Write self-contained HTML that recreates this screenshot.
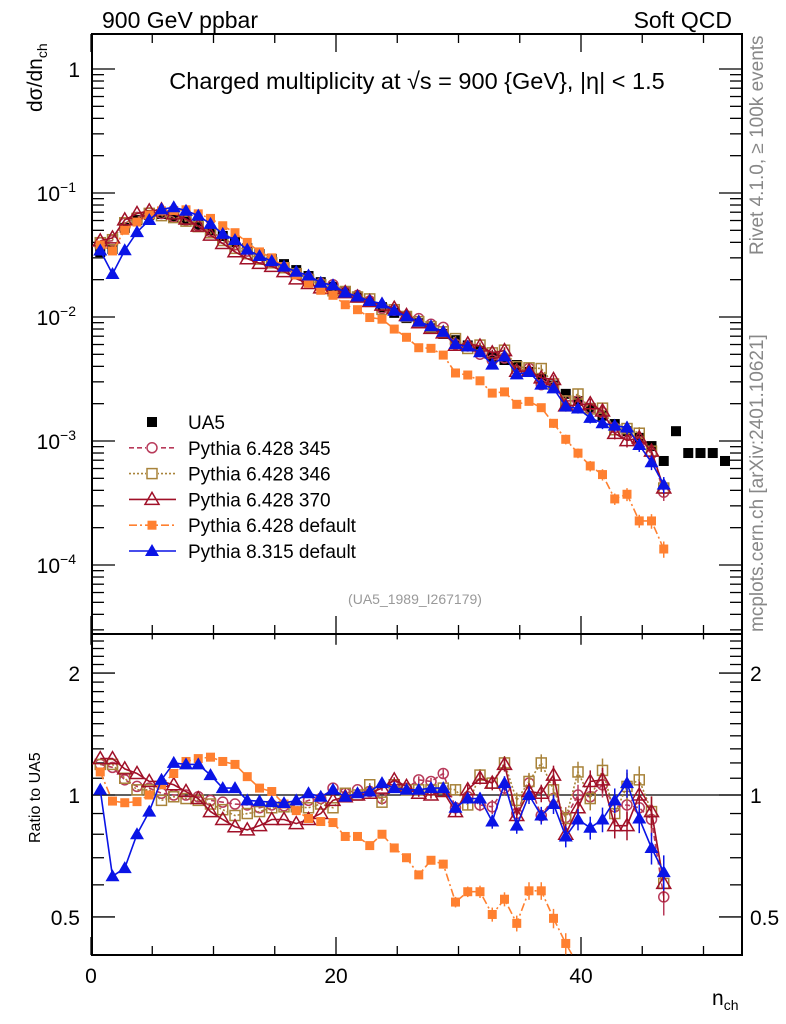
<!DOCTYPE html>
<html><head><meta charset="utf-8"><style>
html,body{margin:0;padding:0;background:#fff;overflow:hidden;width:786px;height:1024px}
svg{display:block;font-family:"Liberation Sans",sans-serif}
</style></head><body>
<svg id="c" width="786" height="1024" viewBox="0 0 786 1024" xmlns="http://www.w3.org/2000/svg">
<defs>
<clipPath id="cm"><rect x="92" y="34" width="650" height="600"/></clipPath>
<clipPath id="cr"><rect x="92" y="634" width="650" height="321"/></clipPath>
</defs>
<g id="axes"></g>
<g id="mainMarks" clip-path="url(#cm)"></g>
<g id="ratioMarks" clip-path="url(#cr)"></g>
<text x="102" y="28" font-size="23">900 GeV ppbar</text>
<text x="732" y="28" font-size="23" text-anchor="end">Soft QCD</text>
<text x="417" y="89" font-size="23.5" text-anchor="middle">Charged multiplicity at √s = 900 {GeV}, |η| &lt; 1.5</text>
<text x="415" y="604" font-size="14" fill="#999" text-anchor="middle">(UA5_1989_I267179)</text>
<text transform="translate(763,255) rotate(-90)" font-size="19" fill="#888">Rivet 4.1.0, ≥ 100k events</text>
<text transform="translate(763,632) rotate(-90)" font-size="19" fill="#888">mcplots.cern.ch [arXiv:2401.10621]</text>
<text transform="translate(42,112) rotate(-90)" font-size="21">dσ/dn<tspan font-size="14" dy="5">ch</tspan></text>
<text transform="translate(40,843) rotate(-90)" font-size="16">Ratio to UA5</text>
<text x="712" y="1005" font-size="21">n<tspan font-size="14" dy="5">ch</tspan></text>
<g id="legend"></g>
</svg>
<script>
const nVals=[1,2,3,4,5,6,7,8,9,10,11,12,13,14,15,16,17,18,19,20,21,22,23,24,25,26,27,28,29,30,31,32,33,34,35,36,37,38,39,40,41,42,43,44,45,46,47,48,49,50,51,52];
const ua5=[0.0334,0.0353,0.0523,0.0605,0.0665,0.0677,0.064,0.0605,0.0552,0.0503,0.045,0.0402,0.036,0.0322,0.0294,0.0267,0.0239,0.0214,0.0191,0.0175,0.0159,0.0145,0.0132,0.012,0.0108,0.0098,0.0089,0.0081,0.0073,0.0065,0.0059,0.0053,0.0048,0.0045,0.0041,0.0036,0.0032,0.0028,0.0024,0.0021,0.00185,0.0016,0.00137,0.0012,0.00106,0.00091,0.00069,0.0012,0.0008,0.0008,0.0008,0.00069];
const r345=[1.19,1.17,1.09,1.05,1.04,1.01,1.0,1.0,0.99,0.97,0.96,0.95,0.945,0.93,0.945,0.94,0.945,0.97,0.98,1.04,1.01,1.03,1.02,0.98,1.05,1.04,1.09,1.08,1.13,0.93,0.99,0.945,0.935,1.04,0.90,1.07,0.89,0.98,0.88,1.0,0.99,1.06,0.935,0.945,0.93,0.87,0.56];
const r346=[1.19,1.19,1.10,1.03,1.03,0.97,0.99,0.98,0.97,0.95,0.92,0.89,0.90,0.91,0.93,0.935,0.935,0.93,0.95,0.93,1.01,1.0,1.06,0.96,1.06,1.03,1.03,1.03,1.04,1.03,0.945,1.12,1.07,1.2,0.97,1.08,1.2,1.03,0.875,1.14,0.98,1.15,0.90,1.05,1.09,0.91,0.605];
const r370=[1.23,1.23,1.16,1.13,1.08,1.08,1.06,1.02,0.98,0.91,0.87,0.835,0.82,0.84,0.87,0.87,0.85,0.87,0.90,0.97,0.99,1.0,1.01,1.04,1.09,1.05,1.01,1.0,1.02,0.91,1.03,1.1,1.07,1.19,0.89,1.02,1.01,1.12,0.80,0.93,1.08,1.09,0.84,0.84,1.0,0.91,0.605];
const rDef6=[1.14,0.966,0.957,0.963,1.0,1.06,1.13,1.21,1.23,1.24,1.21,1.19,1.11,1.04,1.02,0.95,0.915,0.875,0.86,0.855,0.79,0.79,0.75,0.80,0.74,0.70,0.635,0.69,0.675,0.544,0.577,0.577,0.507,0.553,0.482,0.58,0.58,0.496,0.43,0.38,0.34,0.335,0.249,0.31,0.214,0.249,0.195];
const rP8=[1.03,0.63,0.66,0.80,0.91,1.09,1.2,1.19,1.19,1.12,1.04,1.04,0.97,0.965,0.96,0.955,0.97,1.01,0.99,1.03,0.99,1.01,1.02,1.07,1.04,1.03,1.03,1.04,1.04,0.93,0.98,0.98,0.86,1.07,0.84,1.0,0.89,0.95,0.79,0.87,0.83,0.87,0.97,1.07,0.875,0.74,0.645];
const relErr=[0,0,0,0,0,0,0,0,0,0,0,0,0,0,0,0,0,0,0,0,0.01,0.01,0.01,0.015,0.015,0.02,0.02,0.02,0.025,0.03,0.03,0.035,0.04,0.04,0.045,0.05,0.05,0.055,0.06,0.06,0.065,0.07,0.07,0.08,0.08,0.09,0.1];
const xTicks=[0,20,40];
const mainDecades=[0,-1,-2,-3,-4];
const ratioTicks=[0.5,1,2];

const NS="http://www.w3.org/2000/svg";
const X0=91,XS=12.25;
function sx(n){return X0+XS*n-3;}
function ax(v){return X0+XS*v;}
function sy(v){return 193-124*(Math.log10(v)+1);}
function ry(r){return 795-405*Math.log10(r);}
function el(tag,attrs,parent){const e=document.createElementNS(NS,tag);for(const k in attrs)e.setAttribute(k,attrs[k]);parent.appendChild(e);return e;}

const axes=document.getElementById('axes');
let f=el('rect',{x:92,y:34,width:650,height:600,fill:'none',stroke:'#000','stroke-width':2},axes);


f=el('rect',{x:92,y:634,width:650,height:321,fill:'none',stroke:'#000','stroke-width':2},axes);


for(let v=0;v<=53;v+=5){
  const big=v%20===0, L=big?18:9, x=ax(v);
  el('line',{x1:x,y1:34,x2:x,y2:34+L,stroke:'#000','stroke-width':1.3},axes);
  el('line',{x1:x,y1:634,x2:x,y2:634-L,stroke:'#000','stroke-width':1.3},axes);
  el('line',{x1:x,y1:634,x2:x,y2:634+L*0.6,stroke:'#000','stroke-width':1.3},axes);
  el('line',{x1:x,y1:955,x2:x,y2:955-L,stroke:'#000','stroke-width':1.3},axes);
}
xTicks.forEach(v=>{
  const t=el('text',{x:ax(v),y:983,'font-size':21,'text-anchor':'middle'},axes);
  t.textContent=v;
  
  
});
for(let d=-5;d<=0;d++){
  for(let m=1;m<=9;m++){
    const v=m*Math.pow(10,d), y=sy(v);
    if(y<34||y>634)continue;
    const L=m===1?23:12;
    el('line',{x1:92,y1:y,x2:92+L,y2:y,stroke:'#000','stroke-width':1.3},axes);
    el('line',{x1:742,y1:y,x2:742-L,y2:y,stroke:'#000','stroke-width':1.3},axes);
  }
}
mainDecades.forEach(d=>{
  const y=sy(Math.pow(10,d));
  const t=el('text',{x:d===0?80:76,y:y+8,'font-size':21,'text-anchor':'end'},axes);
  if(d===0)t.textContent='1';
  else{t.textContent='10';const s=el('tspan',{dy:-9,'font-size':14},t);s.textContent='−'+(-d);}
  
  
});
for(let r=0.4;r<=2.55;r+=0.1){
  const rr=Math.round(r*10)/10, y=ry(rr);
  if(y<634||y>955)continue;
  const big=(rr===0.5||rr===1||rr===2), L=big?23:12;
  el('line',{x1:92,y1:y,x2:92+L,y2:y,stroke:'#000','stroke-width':1.3},axes);
  el('line',{x1:742,y1:y,x2:742-L,y2:y,stroke:'#000','stroke-width':1.3},axes);
}
ratioTicks.forEach(r=>{
  const y=ry(r);
  let t=el('text',{x:80,y:y+8,'font-size':21,'text-anchor':'end'},axes);t.textContent=r;
  
  
  t=el('text',{x:750,y:y+8,'font-size':21},axes);t.textContent=r;
  
  
});
el('line',{x1:92,y1:ry(1),x2:742,y2:ry(1),stroke:'#000','stroke-width':1.3},axes);

function marker(g,type,x,y,col){
  let m;
  if(type==='fsq')m=el('rect',{x:x-5,y:y-5,width:10,height:10,fill:col},g);
  else if(type==='fsqs')m=el('rect',{x:x-4.5,y:y-4.5,width:9,height:9,fill:col},g);
  else if(type==='osq')m=el('rect',{x:x-5,y:y-5,width:10,height:10,fill:'#fff','fill-opacity':0,stroke:col,'stroke-width':1.5},g);
  else if(type==='oc')m=el('circle',{cx:x,cy:y,r:5,fill:'none',stroke:col,'stroke-width':1.5},g);
  else if(type==='otri')m=el('polygon',{points:`${x},${y-7} ${x-7},${y+5} ${x+7},${y+5}`,fill:'none',stroke:col,'stroke-width':1.5},g);
  else m=el('polygon',{points:`${x},${y-7} ${x-7},${y+5} ${x+7},${y+5}`,fill:col},g);
  return m;
}
const series=[
 {name:'pythia-6428-345',label:'Pythia 6.428 345',r:r345,col:'#b83a5a',dash:'5,3',m:'oc'},
 {name:'pythia-6428-346',label:'Pythia 6.428 346',r:r346,col:'#a8833a',dash:'2,2',m:'osq'},
 {name:'pythia-6428-370',label:'Pythia 6.428 370',r:r370,col:'#a01028',dash:'',m:'otri'},
 {name:'pythia-6428-default',label:'Pythia 6.428 default',r:rDef6,col:'#ff8030',dash:'8,3,2,3',m:'fsqs'},
 {name:'pythia-8315-default',label:'Pythia 8.315 default',r:rP8,col:'#0a14e6',dash:'',m:'ftri'}
];
const mainG=document.getElementById('mainMarks'), ratG=document.getElementById('ratioMarks');
const ua5G=el('g',{},mainG);


ua5.forEach((v,i)=>{
  const m=marker(ua5G,'fsq',sx(nVals[i]),sy(v),'#000');
  
  
});
series.forEach(s=>{
  const gm=el('g',{},mainG);
  
  
  const gr=el('g',{},ratG);
  
  
  const pm=[],pr=[];
  s.r.forEach((r,i)=>{pm.push(sx(nVals[i])+','+sy(r*ua5[i]));pr.push(sx(nVals[i])+','+ry(r));});
  const a={fill:'none',stroke:s.col,'stroke-width':1.6};
  if(s.dash)a['stroke-dasharray']=s.dash;
  const l1=el('polyline',Object.assign({points:pm.join(' ')},a),gm);
  
  
  const l2=el('polyline',Object.assign({points:pr.join(' ')},a),gr);
  
  
  s.r.forEach((r,i)=>{
    const x=sx(nVals[i]), e=relErr[i];
    if(e>0){
      const v=r*ua5[i];
      el('line',{x1:x,y1:sy(v*(1+e*1.5)),x2:x,y2:sy(v*(1-e*1.5)),stroke:s.col,'stroke-width':1.5},gm);
      el('line',{x1:x,y1:ry(r*(1+e)),x2:x,y2:ry(r*(1-e)),stroke:s.col,'stroke-width':1.5},gr);
    }
    let m=marker(gm,s.m,x,sy(r*ua5[i]),s.col);
    
    
    m=marker(gr,s.m,x,ry(r),s.col);
    
    
  });
});
const lg=document.getElementById('legend');
const rows=[{label:'UA5',m:'fsq',col:'#000',noline:true}].concat(series);
rows.forEach((s,i)=>{
  const y=422+i*25.8;
  const g=el('g',{},lg);
  
  
  if(!s.noline){
    const a={x1:129,y1:y,x2:176,y2:y,stroke:s.col,'stroke-width':1.6};
    if(s.dash)a['stroke-dasharray']=s.dash;
    el('line',a,g);
  }
  if(s.m==='osq'||s.m==='oc')el('rect',{x:146,y:y-6,width:12,height:12,fill:'#fff'},g);
  marker(g,s.m,152,y,s.col);
  const t=el('text',{x:188,y:y+7,'font-size':19},g);
  t.textContent=s.label;
});
</script>
</body></html>
